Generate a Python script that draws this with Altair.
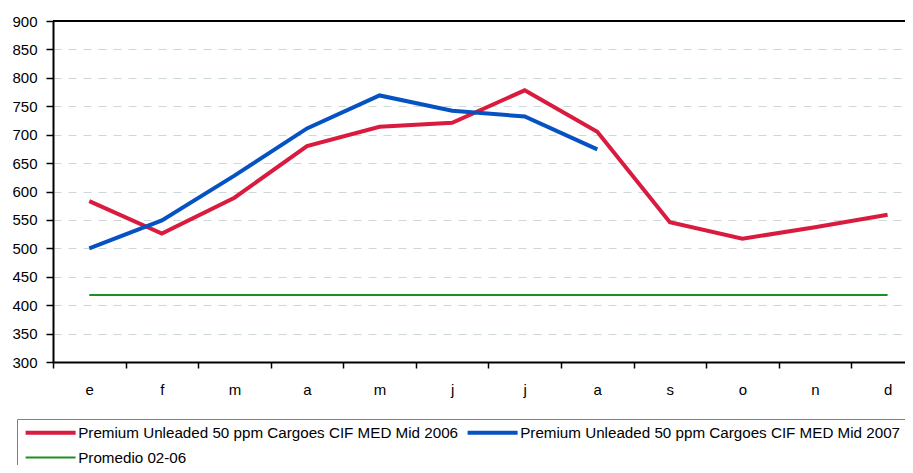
import altair as alt
import pandas as pd

months = ["e", "f", "m", "a", "m", "j", "j", "a", "s", "o", "n", "d"]
series_names = [
    "Premium Unleaded 50 ppm Cargoes CIF MED Mid 2006",
    "Premium Unleaded 50 ppm Cargoes CIF MED Mid 2007",
    "Promedio 02-06",
]
v2006 = [583, 526, 589, 680, 714, 721, 778, 705, 546, 517, 537, 559]
v2007 = [500, 549, 628, 711, 769, 742, 732, 674]
promedio = [418] * 12
colors = ["#d81b3f", "#0552c2", "#1e9020"]
widths = [4, 4, 2]

rows = []
for name, vals in zip(series_names, [v2006, v2007, promedio]):
    for i, v in enumerate(vals):
        rows.append({"series": name, "pos": i + 0.5, "value": v})
df = pd.DataFrame(rows)

FONT = "Liberation Sans"
PLOT_W, PLOT_H = 852, 341

label_list = "[" + ",".join("'" + m + "'" for m in months) + "]"
x_axis = alt.Axis(
    values=[k * 0.5 for k in range(24)],
    labelExpr="(datum.value % 1 == 0) ? '' : " + label_list + "[floor(datum.value)]",
    tickOpacity={"condition": {"test": "datum.value % 1 == 0", "value": 1}, "value": 0},
    tickSize=6,
    tickColor="#000",
    tickWidth=1.5,
    labelPadding=14,
    labelFontSize=15,
    labelFont=FONT,
    labelColor="#000",
    labelOverlap=False,
    labelFlush=False,
    domainColor="#000",
    domainWidth=2,
    grid=False,
    title=None,
)
y_axis = alt.Axis(
    values=list(range(300, 901, 50)),
    tickSize=7,
    tickColor="#000",
    tickWidth=1.5,
    labelPadding=9,
    labelFontSize=15,
    labelFont=FONT,
    labelColor="#000",
    domainColor="#000",
    domainWidth=2,
    grid=True,
    gridColor="#cfd8d8",
    gridDash=[8, 7],
    gridWidth=1,
    title=None,
)

legend = alt.Legend(
    title=None,
    orient="none",
    legendX=-36,
    legendY=398,
    direction="horizontal",
    columns=2,
    symbolType="M-1,0H9",
    symbolSize=100,
    labelOffset=40,
    labelFont=FONT,
    labelFontSize=15.2,
    labelColor="#000",
    labelLimit=600,
    columnPadding=0,
    rowPadding=9,
    padding=6,
    strokeColor="#808080",
    fillColor="#ffffff",
    symbolLimit=10,
)

lines = alt.Chart(df).mark_line(strokeCap="butt").encode(
    x=alt.X("pos:Q", scale=alt.Scale(domain=[0, 11.74], nice=False, zero=False), axis=x_axis),
    y=alt.Y("value:Q", scale=alt.Scale(domain=[300, 900], nice=False, zero=False), axis=y_axis),
    color=alt.Color(
        "series:N",
        scale=alt.Scale(domain=series_names, range=colors),
        sort=series_names,
        legend=legend,
    ),
    strokeWidth=alt.StrokeWidth(
        "series:N",
        scale=alt.Scale(type="ordinal", domain=series_names, range=widths),
        sort=series_names,
        legend=legend,
    ),
)

top_border = alt.Chart(df).mark_rule(color="#000", strokeWidth=2).encode(
    x=alt.value(0), x2=alt.value(PLOT_W), y=alt.value(0)
)

chart = alt.layer(lines, top_border).properties(
    width=PLOT_W,
    height=PLOT_H,
    autosize=alt.AutoSizeParams(type="none"),
    padding={"left": 45, "top": 13, "right": 0, "bottom": 103},
).configure_view(stroke=None)

chart.save("out.html", embed_options={"renderer": "svg", "actions": False})
